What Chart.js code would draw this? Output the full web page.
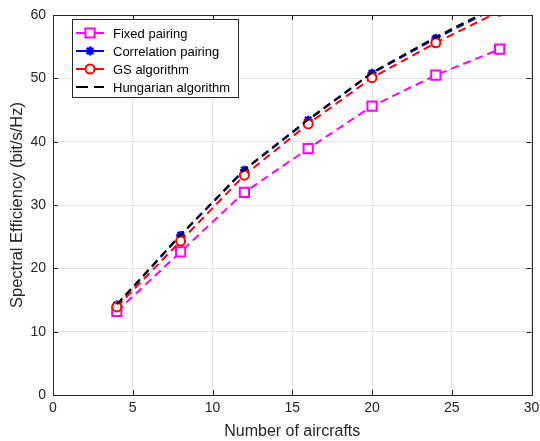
<!DOCTYPE html>
<html><head><meta charset="utf-8">
<script src="https://cdn.jsdelivr.net/npm/chart.js@4"></script>
<style>html,body{margin:0;padding:0;background:#fff}#wrap{width:540px;height:441px}</style>
</head><body><div id="wrap"><canvas id="c" width="540" height="441"></canvas></div>
<script>
const xValues = [4, 8, 12, 16, 20, 24, 28];
const fixedPairing = [13.2, 22.6, 32.0, 38.9, 45.6, 50.5, 54.6];
const correlationPairing = [14.2, 25.2, 35.5, 43.4, 50.8, 56.3, 61.4];
const gsAlgorithm = [13.9, 24.3, 34.7, 42.8, 50.1, 55.6, 60.6];
const hungarianAlgorithm = [14.3, 25.3, 35.6, 43.5, 50.9, 56.5, 61.6];
const seriesLabels = ['Fixed pairing', 'Correlation pairing', 'GS algorithm', 'Hungarian algorithm'];
const xTicks = [0, 5, 10, 15, 20, 25, 30];
const yTicks = [0, 10, 20, 30, 40, 50, 60];

const FONT = 'Liberation Sans, Arial, sans-serif';
const AX = '#262626';
const pts = arr => arr.map((v, i) => ({x: xValues[i], y: v}));

const boxPlugin = {
  id: 'box',
  afterDraw(chart) {
    const ctx = chart.ctx, a = chart.chartArea;
    const xs = chart.scales.x, ys = chart.scales.y;
    ctx.save();
    ctx.strokeStyle = AX; ctx.lineWidth = 1;
    ctx.beginPath();
    ctx.rect(Math.round(a.left) + 0.5, Math.round(a.top) + 0.5, Math.round(a.right - a.left), Math.round(a.bottom - a.top));
    ctx.stroke();
    const L = 5;
    ctx.beginPath();
    xTicks.forEach(t => {
      const p = Math.round(xs.getPixelForValue(t)) + 0.5;
      ctx.moveTo(p, a.bottom); ctx.lineTo(p, a.bottom - L);
      ctx.moveTo(p, a.top); ctx.lineTo(p, a.top + L);
    });
    yTicks.forEach(t => {
      const p = Math.round(ys.getPixelForValue(t)) + 0.5;
      ctx.moveTo(a.left, p); ctx.lineTo(a.left + L, p);
      ctx.moveTo(a.right, p); ctx.lineTo(a.right - L, p);
    });
    ctx.stroke();

    // legend
    const lx = 72, ly = 19, lw = 166, lh = 78;
    ctx.fillStyle = '#fff';
    ctx.fillRect(lx, ly, lw, lh);
    ctx.strokeStyle = '#262626';
    ctx.strokeRect(lx + 0.5, ly + 0.5, lw, lh);
    const ds = chart.data.datasets;
    [0, 1, 2, 3].forEach((di, k) => {
      const d = ds[di];
      const cy = ly + 14 + k * 18;
      ctx.save();
      ctx.strokeStyle = d.borderColor; ctx.lineWidth = 2;
      ctx.setLineDash([12, 6]);
      ctx.beginPath(); ctx.moveTo(lx + 4, cy); ctx.lineTo(lx + 32, cy); ctx.stroke();
      ctx.restore();
      if (d.pointRadius > 0) {
        ctx.save();
        ctx.fillStyle = d.pointBackgroundColor; ctx.strokeStyle = d.pointBorderColor; ctx.lineWidth = d.pointBorderWidth;
        Chart.helpers.drawPoint(ctx, {pointStyle: d.pointStyle, rotation: 0, radius: d.pointRadius, borderWidth: d.pointBorderWidth}, lx + 18, cy);
        ctx.restore();
      }
      ctx.fillStyle = '#000';
      ctx.font = '13px ' + FONT;
      ctx.textBaseline = 'middle';
      ctx.textAlign = 'left';
      ctx.fillText(d.label, lx + 41, cy + 1);
    });
    ctx.restore();
  }
};

new Chart(document.getElementById('c'), {
  type: 'line',
  data: {
    datasets: [
      {label: seriesLabels[0], data: pts(fixedPairing), borderColor: '#ff00ff', borderWidth: 2, borderDash: [8, 5],
       pointStyle: 'rect', pointRadius: 6.5, pointBorderWidth: 2, pointBorderColor: '#ff00ff', pointBackgroundColor: '#fff', order: 4, clip: 0},
      {label: seriesLabels[1], data: pts(correlationPairing), borderColor: '#0000ff', borderWidth: 2, borderDash: [8, 5],
       pointStyle: 'star', pointRadius: 4.5, pointBorderWidth: 2.5, pointBorderColor: '#0000ff', pointBackgroundColor: '#0000ff', order: 3, clip: 0},
      {label: seriesLabels[2], data: pts(gsAlgorithm), borderColor: '#ff0000', borderWidth: 2, borderDash: [8, 5],
       pointStyle: 'circle', pointRadius: 4.5, pointBorderWidth: 2, pointBorderColor: '#ff0000', pointBackgroundColor: '#fff', order: 2, clip: 0},
      {label: seriesLabels[3], data: pts(hungarianAlgorithm), borderColor: '#000000', borderWidth: 2, borderDash: [8, 5],
       pointRadius: 0, pointBorderWidth: 0, order: 1, clip: 0}
    ]
  },
  options: {
    responsive: false,
    animation: false,
    layout: {padding: {left: 0, right: 8, top: 15, bottom: 0}},
    plugins: {legend: {display: false}, tooltip: {enabled: false}},
    elements: {line: {tension: 0}},
    scales: {
      x: {
        type: 'linear', min: 0, max: 30,
        afterBuildTicks: s => { s.ticks = xTicks.map(v => ({value: v})); },
        afterFit: s => { s.height = 46; s.paddingLeft = 0; s.paddingRight = 0; },
        grid: {color: '#e3e3e3', drawTicks: false, lineWidth: 1},
        border: {display: false},
        ticks: {color: AX, font: {family: FONT, size: 14}, padding: 5, maxRotation: 0},
        title: {display: true, text: 'Number of aircrafts', color: AX, font: {family: FONT, size: 16}, padding: {top: 2, bottom: 0}}
      },
      y: {
        type: 'linear', min: 0, max: 60,
        afterBuildTicks: s => { s.ticks = yTicks.map(v => ({value: v})); },
        afterFit: s => { s.width = 53; s.paddingTop = 0; s.paddingBottom = 0; },
        grid: {color: '#e3e3e3', drawTicks: false, lineWidth: 1},
        border: {display: false},
        ticks: {color: AX, font: {family: FONT, size: 14}, padding: 7},
        title: {display: true, text: 'Spectral Efficiency (bit/s/Hz)', color: AX, font: {family: FONT, size: 16.5}, padding: {top: 8, bottom: 0}}
      }
    }
  },
  plugins: [boxPlugin]
});
</script></body></html>
